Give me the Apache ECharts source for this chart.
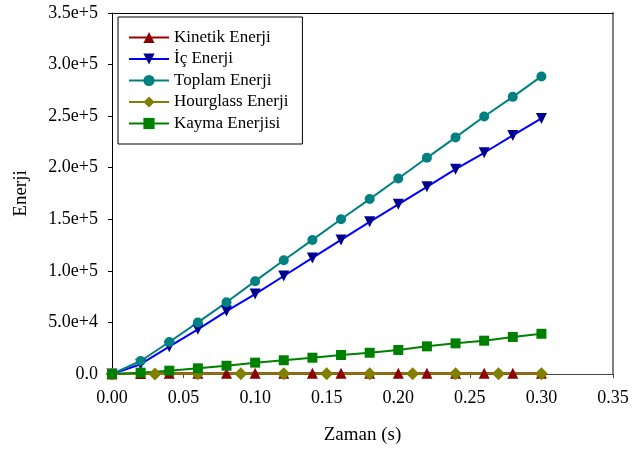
<!DOCTYPE html>
<html>
<head>
<meta charset="utf-8">
<script src="https://cdn.jsdelivr.net/npm/echarts@6/dist/echarts.min.js"></script>
<style>
  html, body { margin: 0; padding: 0; background: #fff; }
  #chart { width: 632px; height: 453px; }
</style>
</head>
<body>
<div id="chart"></div>
<script>
// zaman noktalari
var zaman = [0, 0.02, 0.04, 0.06, 0.08, 0.10, 0.12, 0.14, 0.16, 0.18, 0.20, 0.22, 0.24, 0.26, 0.28, 0.30];
var zamanHourglass = [0, 0.03, 0.06, 0.09, 0.12, 0.15, 0.18, 0.21, 0.24, 0.27, 0.30];

var kinetik = [0, 600, 700, 700, 800, 800, 800, 800, 800, 800, 800, 800, 800, 800, 800, 800];
var icEnerji = [0, 9500, 26500, 43300, 61000, 77500, 95000, 112500, 130000, 147500, 164500, 181500, 198600, 214500, 231300, 247800];
var toplam = [0, 12600, 31000, 50000, 69500, 90000, 110300, 130000, 150000, 169600, 189600, 209600, 229400, 249700, 268700, 288500];
var hourglass = [0, 100, 150, 150, 200, 200, 200, 200, 200, 200, 200];
var kayma = [0, 1300, 3200, 5500, 8000, 11000, 13300, 15800, 18400, 20600, 23300, 26800, 29700, 32300, 35900, 39000];

var xTicks = ['0.00', '0.05', '0.10', '0.15', '0.20', '0.25', '0.30', '0.35'];
var yTicks = ['0.0', '5.0e+4', '1.0e+5', '1.5e+5', '2.0e+5', '2.5e+5', '3.0e+5', '3.5e+5'];

function pairs(xs, ys) {
  return xs.map(function (x, i) { return [x, ys[i]]; });
}

var serif = 'Liberation Serif';
var chart = echarts.init(document.getElementById('chart'));

function seri(name, xs, ys, symbol, size, lineColor, markColor, rotate) {
  return {
    name: name,
    type: 'line',
    data: pairs(xs, ys),
    symbol: symbol,
    symbolSize: size,
    symbolRotate: rotate || 0,
    showAllSymbol: true,
    animation: false,
    lineStyle: { color: lineColor, width: 2 },
    itemStyle: { color: markColor, borderWidth: 0 }
  };
}

chart.setOption({
  backgroundColor: '#fff',
  animation: false,
  grid: { left: 112, right: 19, top: 13, bottom: 79, containLabel: false },
  legend: {
    orient: 'vertical',
    left: 118,
    top: 17,
    itemWidth: 40,
    itemHeight: 14,
    itemGap: 4.5,
    padding: [12, 14, 12, 10],
    borderColor: '#000',
    borderWidth: 1,
    backgroundColor: '#fff',
    textStyle: { fontFamily: serif, fontSize: 17, color: '#000' },
    data: ['Kinetik Enerji', 'İç Enerji', 'Toplam Enerji', 'Hourglass Enerji', 'Kayma Enerjisi']
  },
  xAxis: [{
    type: 'value',
    min: 0, max: 0.35, interval: 0.05,
    name: 'Zaman (s)',
    nameLocation: 'middle',
    nameGap: 52,
    nameTextStyle: { fontFamily: serif, fontSize: 19, color: '#000' },
    axisLine: { onZero: false, lineStyle: { color: '#444', width: 1 } },
    axisTick: { inside: false, length: 4, lineStyle: { color: '#444' } },
    axisLabel: {
      fontFamily: serif, fontSize: 18, color: '#000', margin: 15,
      formatter: function (v) { return xTicks[Math.round(v / 0.05)]; }
    },
    splitLine: { show: false }
  }, {
    type: 'value', position: 'top',
    min: 0, max: 0.35, interval: 0.05,
    axisLine: { show: true, onZero: false, lineStyle: { color: '#000', width: 1 } },
    axisTick: { show: false }, axisLabel: { show: false }, splitLine: { show: false }
  }],
  yAxis: [{
    type: 'value',
    min: 0, max: 350000, interval: 50000,
    name: 'Enerji',
    nameLocation: 'middle',
    nameGap: 81,
    nameTextStyle: { fontFamily: serif, fontSize: 19, color: '#000' },
    axisLine: { show: true, onZero: false, lineStyle: { color: '#000', width: 1 } },
    axisTick: { show: true, inside: false, length: 4, lineStyle: { color: '#000' } },
    axisLabel: {
      fontFamily: serif, fontSize: 18, color: '#000', margin: 14,
      formatter: function (v) { return yTicks[Math.round(v / 50000)]; }
    },
    splitLine: { show: false }
  }, {
    type: 'value', position: 'right',
    min: 0, max: 350000, interval: 50000,
    axisLine: { show: true, onZero: false, lineStyle: { color: '#808080', width: 2 } },
    axisTick: { show: false }, axisLabel: { show: false }, splitLine: { show: false }
  }],
  series: [
    seri('Kinetik Enerji', zaman, kinetik, 'triangle', 11, '#990000', '#8B0000'),
    seri('İç Enerji', zaman, icEnerji, 'triangle', 11, '#0000FF', '#000090', 180),
    seri('Toplam Enerji', zaman, toplam, 'circle', 10, '#008080', '#008080'),
    seri('Hourglass Enerji', zamanHourglass, hourglass, 'diamond', 13, '#808000', '#808000'),
    seri('Kayma Enerjisi', zaman, kayma, 'rect', 10, '#008000', '#008000')
  ]
});
</script>
</body>
</html>
